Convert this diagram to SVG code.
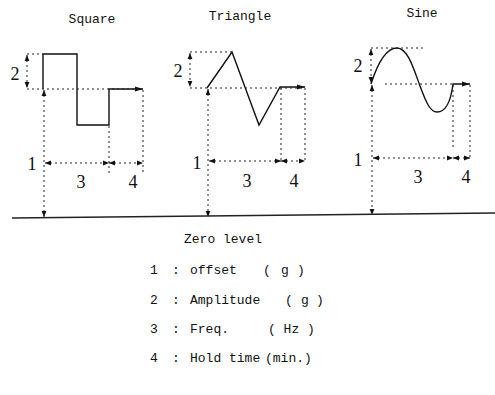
<svg xmlns="http://www.w3.org/2000/svg" width="495" height="395" viewBox="0 0 495 395">
<defs>
<marker id="ah" viewBox="0 0 6 6" refX="6" refY="3" markerWidth="6" markerHeight="6" markerUnits="userSpaceOnUse" orient="auto-start-reverse"><path d="M0,0.6 L6,3 L0,5.4 Z" fill="#111"/></marker>
<marker id="wa" viewBox="0 0 8 6" refX="8" refY="3" markerWidth="9" markerHeight="6" markerUnits="userSpaceOnUse" orient="auto"><path d="M0,0.5 L8,3 L0,5.5 Z" fill="#111"/></marker>
</defs>
<style>
.t{font-family:"Liberation Mono","DejaVu Sans Mono",monospace;font-size:13px;fill:#111}
.n{font-family:"Liberation Serif","DejaVu Serif",serif;font-size:18px;fill:#111;text-anchor:middle}
.w{fill:none;stroke:#111;stroke-width:1.4}
.d{fill:none;stroke:#222;stroke-width:1;stroke-dasharray:2,3}
.a{marker-start:url(#ah);marker-end:url(#ah)}
</style>
<rect width="495" height="395" fill="#fff"/>

<g id="square">
<text class="t" x="92" y="23" text-anchor="middle">Square</text>
<path class="w" d="M43,89 V54 H77 V125 H109 V89 H143" marker-end="url(#wa)"/>
<g class="connectors">
<path class="d" d="M27,54 H43"/>
<path class="d a" d="M27,55 V88"/>
<path class="d" d="M27,89 H140"/>
<path class="d a" d="M44,90 V217"/>
<path class="d" d="M109,126 V173 M143,90 V173"/>
<path class="d a" d="M45,163 H109"/>
<path class="d a" d="M109,163 H143"/>
</g>
<text class="n" x="15" y="80">2</text>
<text class="n" x="32" y="170">1</text>
<text class="n" x="81" y="188">3</text>
<text class="n" x="133" y="188">4</text>
</g>

<g id="triangle">
<text class="t" x="240" y="20" text-anchor="middle">Triangle</text>
<path class="w" d="M207,88 L232,52 L259,125 L280,87 H305" marker-end="url(#wa)"/>
<g class="connectors">
<path class="d" d="M190,52 H232"/>
<path class="d a" d="M190,53 V87"/>
<path class="d" d="M190,88 H302"/>
<path class="d a" d="M208,89 V217"/>
<path class="d" d="M281,88 V161 M305,88 V161"/>
<path class="d a" d="M209,161 H281"/>
<path class="d a" d="M281,161 H305"/>
</g>
<text class="n" x="178" y="77">2</text>
<text class="n" x="197" y="169">1</text>
<text class="n" x="247" y="187">3</text>
<text class="n" x="294" y="187">4</text>
</g>

<g id="sine">
<text class="t" x="422" y="17" text-anchor="middle">Sine</text>
<path class="w" d="M371,84 C378,62 387,48 397,48 C408,48 414,70 420,86 C426,102 430,112 437,112 C446,112 451,100 453,84 H470" marker-end="url(#wa)"/>
<g class="connectors">
<path class="d" d="M371,48 H423"/>
<path class="d a" d="M371,49 V83"/>
<path class="d" d="M385,84 H453"/>
<path class="d a" d="M372,85 V215"/>
<path class="d" d="M453,85 V148 M470,85 V158"/>
<path class="d a" d="M373,158 H453"/>
<path class="d a" d="M453,158 H470"/>
</g>
<text class="n" x="358" y="72">2</text>
<text class="n" x="358" y="166">1</text>
<text class="n" x="418" y="183">3</text>
<text class="n" x="466" y="183">4</text>
</g>

<g id="zero-line">
<path d="M12,218 L495,213" fill="none" stroke="#222" stroke-width="1.3"/>
</g>

<g id="legend">
<text class="t" x="184" y="243">Zero level</text>
<text class="t" x="150" y="274">1</text><text class="t" x="172" y="274">:</text><text class="t" x="190" y="274">offset</text><text class="t" x="263" y="274">(</text><text class="t" x="281" y="274">g</text><text class="t" x="297" y="274">)</text>
<text class="t" x="150" y="304">2</text><text class="t" x="172" y="304">:</text><text class="t" x="190" y="304">Amplitude</text><text class="t" x="285" y="304">(</text><text class="t" x="301" y="304">g</text><text class="t" x="316" y="304">)</text>
<text class="t" x="150" y="333">3</text><text class="t" x="172" y="333">:</text><text class="t" x="190" y="333">Freq.</text><text class="t" x="268" y="333">( Hz )</text>
<text class="t" x="150" y="362">4</text><text class="t" x="172" y="362">:</text><text class="t" x="190" y="362">Hold time</text><text class="t" x="265" y="362">(min.)</text>
</g>
</svg>
